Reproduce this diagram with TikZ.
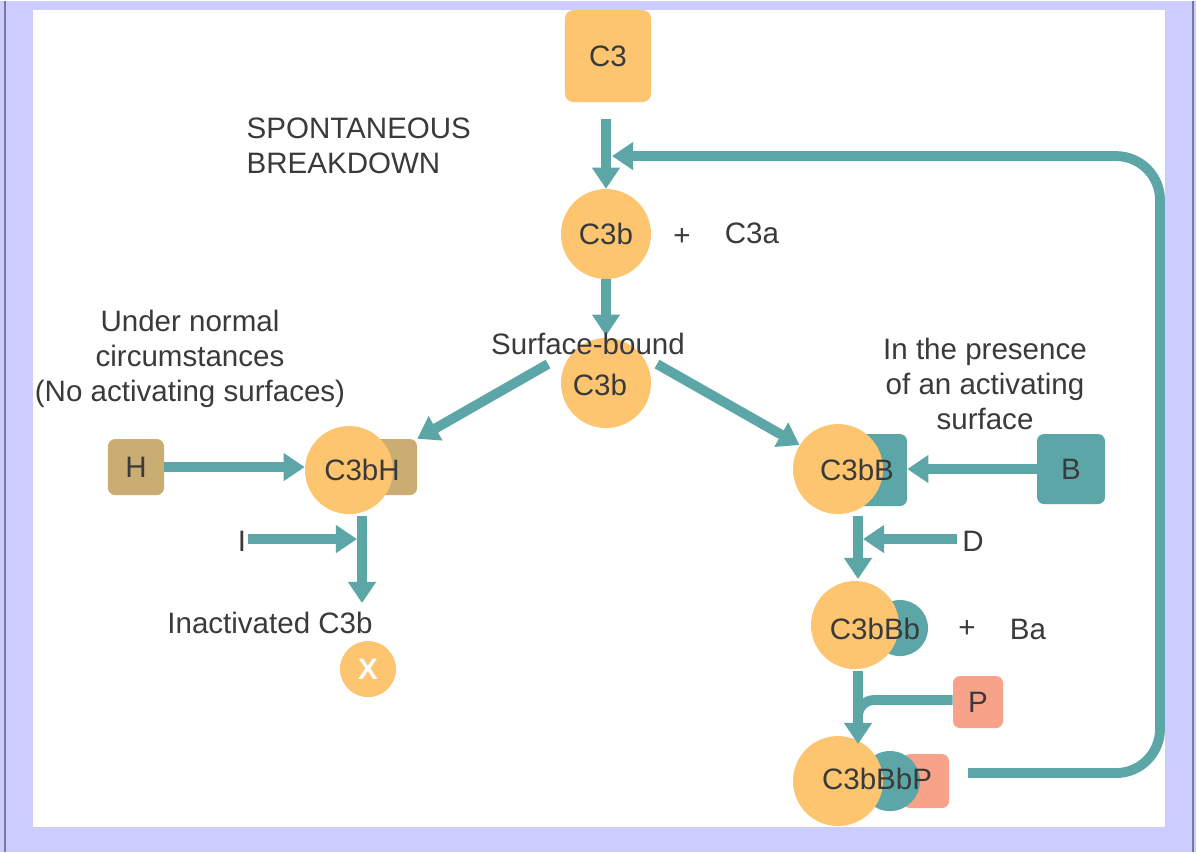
\documentclass[tikz,border=0pt]{standalone}
\usepackage{fontspec}
\setmainfont{Liberation Sans}
\usetikzlibrary{arrows.meta,positioning}
\definecolor{lavender}{RGB}{204,204,255}
\definecolor{frameline}{RGB}{122,122,150}
\definecolor{flowteal}{RGB}{92,166,167}
\definecolor{c3orange}{RGB}{253,197,112}
\definecolor{factortan}{RGB}{201,173,115}
\definecolor{factorsalmon}{RGB}{247,162,137}
\definecolor{inkgray}{RGB}{58,58,58}
\tikzset{
  lbl/.style={
    text=inkgray,
    inner sep=1pt,
    font=\fontsize{21}{24.8}\selectfont
  },
  ball/.style={
    circle,
    fill=c3orange,
    minimum size=2.25cm,
    inner sep=0pt,
    lbl
  },
  tealball/.style={
    circle,
    fill=flowteal,
    minimum size=1.4cm,
    inner sep=0pt
  },
  c3box/.style={
    rounded corners=6pt,
    fill=c3orange,
    minimum width=2.15cm,
    minimum height=2.3cm,
    lbl
  },
  hbox/.style={
    rounded corners=5pt,
    fill=factortan,
    minimum width=1.4cm,
    minimum height=1.4cm,
    lbl
  },
  bbox/.style={
    rounded corners=5pt,
    fill=flowteal,
    minimum width=1.7cm,
    minimum height=1.75cm,
    lbl
  },
  pbox/.style={
    rounded corners=5pt,
    fill=factorsalmon,
    minimum width=1.25cm,
    minimum height=1.3cm,
    lbl
  },
  flowline/.style={
    line width=7pt,
    flowteal
  },
  flowarrow/.style={
    flowline,
    -{Triangle[length=15pt,width=19pt]}
  }
}
\begin{document}
\begin{tikzpicture}[x=0.025cm,y=-0.025cm]
% frame
\fill[lavender] (0,0) rectangle (1196,851);
\fill[white] (33,9) rectangle (1165,826);
\draw[frameline,line width=1.5pt] (5,0) -- (5,851);
\draw[frameline,line width=1.5pt] (1193,0) -- (1193,851);
\useasboundingbox (0,0) rectangle (1196,851);

% top
\node[c3box] (c3) at (608,55) {C3};
\node[ball] (c3b) at (606,233) {C3b};
\node[lbl] (plus1) at (682,236) {+};
\node[lbl] (c3a) at (752,232) {C3a};
\node[lbl,align=left,anchor=west] (spont) at (245,145) {SPONTANEOUS\\BREAKDOWN};
\node[ball] (sb) at (606,382) {};
\coordinate (merge) at (612,155);
\draw[flowarrow] ([yshift=-0.42cm]c3b.north |- c3.south) -- (c3b.north);
\draw[flowarrow] (c3b.south) -- ([yshift=0.05cm]sb.north);
\node[lbl] (sbtext) at (588,343) {Surface-bound};
\node[lbl] (sbc3b) at (600,384) {C3b};

% left branch
\node[lbl,align=center] (normal) at (190,358) {Under normal\\circumstances\\(No activating surfaces)};
\node[hbox] (h) at (136,466) {H};
\node[hbox,minimum width=1.45cm] (hpart) at (388,466) {};
\node[ball,minimum size=2.2cm] (c3bh) at (349,469) {};
\node[lbl] (c3bhtext) at (362,469) {C3bH};
\node[lbl] (inhib) at (242,540) {I};
\node[lbl] (inact) at (270,622) {Inactivated C3b};
\node[ball,minimum size=1.4cm,text=white,font=\fontsize{21}{24.8}\selectfont\bfseries] (xball) at (368,668) {X};
\coordinate (sbleft) at (548,363);
\coordinate (hdown) at (362,515);
\coordinate (hend) at (362,602);
\coordinate (imeet) at (357,538);
\draw[flowarrow] (sbleft) -- (hpart.north east);
\draw[flowarrow] (h.east) -- (c3bh.west |- h.east);
\draw[flowarrow] (hdown) -- (hend);
\draw[flowarrow] (inhib.east |- imeet) -- (imeet);

% right branch
\node[lbl,align=center] (presence) at (985,383) {In the presence\\of an activating\\surface};
\node[bbox,minimum width=1.55cm,minimum height=1.8cm] (bpart) at (876,469) {};
\node[ball] (c3bb) at (838,468) {};
\node[lbl] (c3bbtext) at (857,469) {C3bB};
\node[bbox] (b) at (1071,468) {B};
\node[lbl] (d) at (973,540) {D};
\node[tealball] (bb) at (900,627) {};
\node[ball,minimum size=2.2cm] (c3bbb) at (855,624) {};
\node[lbl] (c3bbbtext) at (875,628) {C3bBb};
\node[lbl] (plus2) at (967,628) {+};
\node[lbl] (ba) at (1028,628) {Ba};
\node[pbox] (p) at (978,701) {P};
\node[pbox,minimum width=1.15cm,minimum height=1.35cm] (ppart) at (926,780) {};
\node[tealball,minimum size=1.5cm] (bbp) at (890,780) {};
\node[ball] (c3bbbp) at (838,780) {};
\node[lbl] (c3bbbptext) at (877,778) {C3bBbP};
\coordinate (sbright) at (657,363);
\coordinate (bdown) at (858,515);
\coordinate (bend) at (858,578);
\coordinate (dmeet) at (863,538);
\coordinate (bbdown) at (858,670);
\coordinate (bbend) at (858,743);
\coordinate (pjoin) at (858,699);
\coordinate (loopstart) at (968,772);
\draw[flowarrow] (sbright) -- (c3bb.148);
\draw[flowarrow] (b.west) -- (bpart.east |- b.west);
\draw[flowarrow] (bdown) -- (bend);
\draw[flowarrow] ([xshift=-0.1cm]d.west |- dmeet) -- (dmeet);
\draw[flowarrow] (bbdown) -- (bbend);
\draw[flowline,rounded corners=0.4cm] (p.west |- pjoin) -- (pjoin) -- (858,730);

% feedback loop
\draw[flowarrow,rounded corners=1.1cm] (loopstart) -- (1160,772) -- (1160,155) -- (merge);
\end{tikzpicture}
\end{document}
